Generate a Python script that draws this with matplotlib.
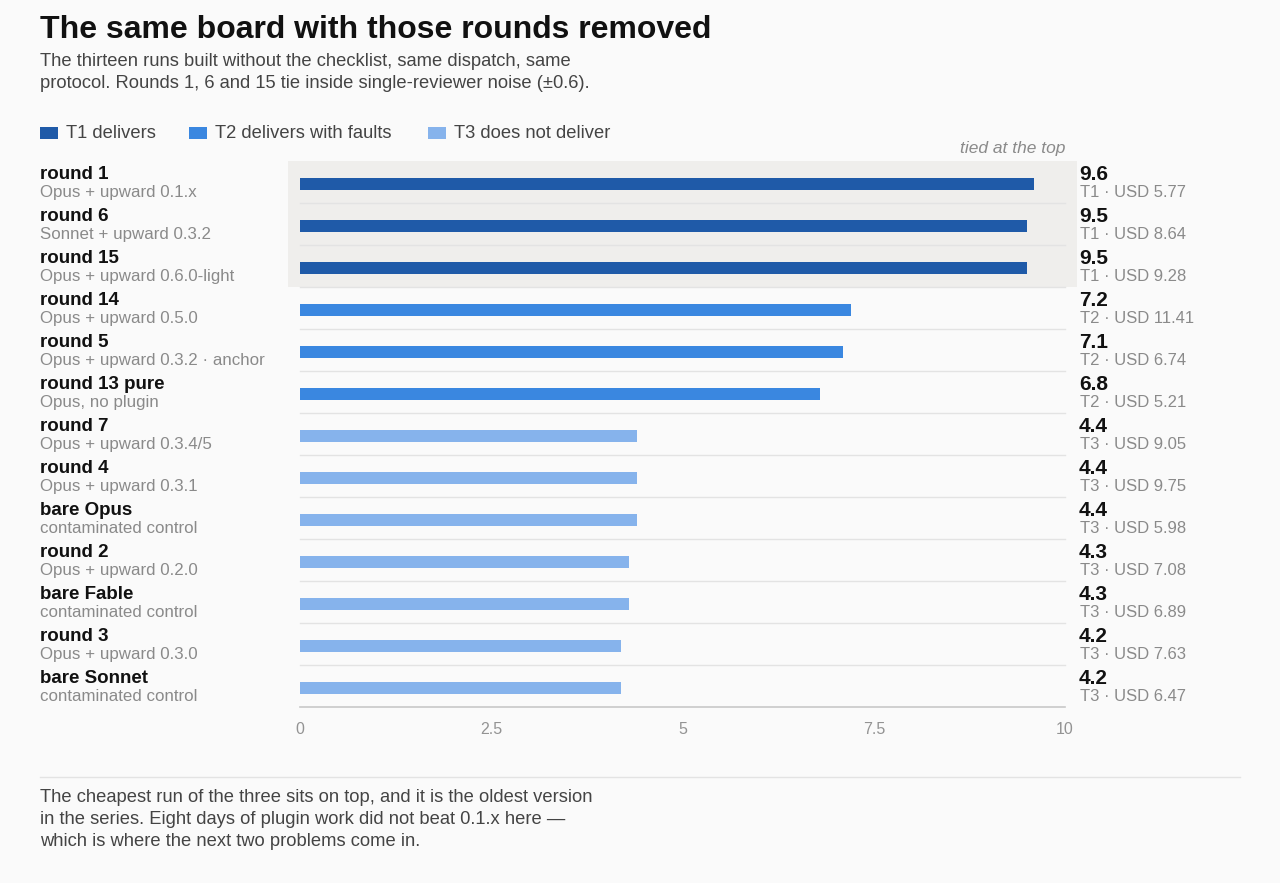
import matplotlib.pyplot as plt
import matplotlib.transforms as mtransforms
from matplotlib.patches import Rectangle

plt.rcParams['font.family'] = ['Liberation Sans', 'DejaVu Sans']

names = ["round 1", "round 6", "round 15", "round 14", "round 5", "round 13 pure",
         "round 7", "round 4", "bare Opus", "round 2", "bare Fable", "round 3", "bare Sonnet"]
subs = ["Opus + upward 0.1.x", "Sonnet + upward 0.3.2", "Opus + upward 0.6.0-light",
        "Opus + upward 0.5.0", "Opus + upward 0.3.2 \u00b7 anchor", "Opus, no plugin",
        "Opus + upward 0.3.4/5", "Opus + upward 0.3.1", "contaminated control",
        "Opus + upward 0.2.0", "contaminated control", "Opus + upward 0.3.0",
        "contaminated control"]
scores = [9.6, 9.5, 9.5, 7.2, 7.1, 6.8, 4.4, 4.4, 4.4, 4.3, 4.3, 4.2, 4.2]
tiers = ["T1", "T1", "T1", "T2", "T2", "T2", "T3", "T3", "T3", "T3", "T3", "T3", "T3"]
costs = ["5.77", "8.64", "9.28", "11.41", "6.74", "5.21", "9.05", "9.75", "5.98",
         "7.08", "6.89", "7.63", "6.47"]
tier_labels = {"T1": "T1 delivers", "T2": "T2 delivers with faults", "T3": "T3 does not deliver"}
xticks = [0, 2.5, 5, 7.5, 10]

colors = {"T1": "#1f5aa8", "T2": "#3a87e0", "T3": "#86b3ec"}
bg = "#fafafa"

W, H = 1280, 883
fig = plt.figure(figsize=(W / 100, H / 100), dpi=100, facecolor=bg)
ax = fig.add_axes([300 / W, 1 - 707 / H, 765 / W, 546 / H])
ax.set_facecolor("none")

n = len(names)
ys = list(range(n))

# shaded band for the tie at the top
blend_x = mtransforms.blended_transform_factory(fig.transFigure, ax.transData)
ax.add_patch(Rectangle((288 / W, -0.5), (1077 - 288) / W, 3, transform=blend_x,
                       facecolor="#efeeec", edgecolor="none", clip_on=False, zorder=0))

# row separators
for i in range(n - 1):
    ax.plot([0, 10], [i + 0.5, i + 0.5], color="#e3e3e3", lw=1, zorder=1, clip_on=False)

ax.barh([y + 0.05 for y in ys], scores, height=0.29,
        color=[colors[t] for t in tiers], zorder=2)

ax.set_xlim(0, 10)
ax.set_ylim(n - 0.5, -0.5)
ax.set_yticks([])
ax.set_xticks(xticks)
ax.set_xticklabels(["0", "2.5", "5", "7.5", "10"])
ax.tick_params(axis="x", length=0, pad=11, labelsize=11.5, labelcolor="#939393")
for s in ["top", "right", "left"]:
    ax.spines[s].set_visible(False)
ax.spines["bottom"].set_color("#c8c8c8")
ax.spines["bottom"].set_linewidth(1.2)

# row labels left and right
for i in ys:
    fig.text(40 / W, i - 0.17, names[i], transform=blend_x, ha="left", va="center",
             fontsize=13.5, fontweight="bold", color="#111111")
    fig.text(40 / W, i + 0.26, subs[i], transform=blend_x, ha="left", va="center",
             fontsize=12.2, color="#8a8a8a")
    fig.text(1079 / W, i - 0.17, f"{scores[i]:.1f}", transform=blend_x, ha="left",
             va="center", fontsize=15, fontweight="bold", color="#111111")
    fig.text(1080 / W, i + 0.26, f"{tiers[i]} \u00b7 USD {costs[i]}", transform=blend_x,
             ha="left", va="center", fontsize=12, color="#8a8a8a")

fig.text(1065 / W, 1 - 148 / H, "tied at the top", ha="right", va="center",
         fontsize=12.5, style="italic", color="#8a8a8a")

# title block
fig.text(40 / W, 1 - 30 / H, "The same board with those rounds removed", ha="left",
         va="center", fontsize=23, fontweight="bold", color="#111111")
fig.text(40 / W, 1 - 62 / H, "The thirteen runs built without the checklist, same dispatch, same",
         ha="left", va="center", fontsize=13.2, color="#444444")
fig.text(40 / W, 1 - 84 / H, "protocol. Rounds 1, 6 and 15 tie inside single-reviewer noise (\u00b10.6).",
         ha="left", va="center", fontsize=13.2, color="#444444")

# legend
for x0, t in zip([40, 189, 428], ["T1", "T2", "T3"]):
    fig.patches.append(Rectangle((x0 / W, 1 - 139 / H), 18 / W, 12 / H,
                                 transform=fig.transFigure, facecolor=colors[t],
                                 edgecolor="none"))
    fig.text((x0 + 26) / W, 1 - 133 / H, tier_labels[t], ha="left", va="center",
             fontsize=13.2, color="#444444")

# footer
fig.add_artist(plt.Line2D([40 / W, 1240 / W], [1 - 777 / H, 1 - 777 / H],
                          transform=fig.transFigure, color="#e3e3e3", lw=1))
footer = ["The cheapest run of the three sits on top, and it is the oldest version",
          "in the series. Eight days of plugin work did not beat 0.1.x here \u2014",
          "which is where the next two problems come in."]
for k, line in enumerate(footer):
    fig.text(40 / W, 1 - (798 + 22 * k) / H, line, ha="left", va="center",
             fontsize=13.2, color="#444444")

fig.savefig("out.png", dpi=100, facecolor=bg)
